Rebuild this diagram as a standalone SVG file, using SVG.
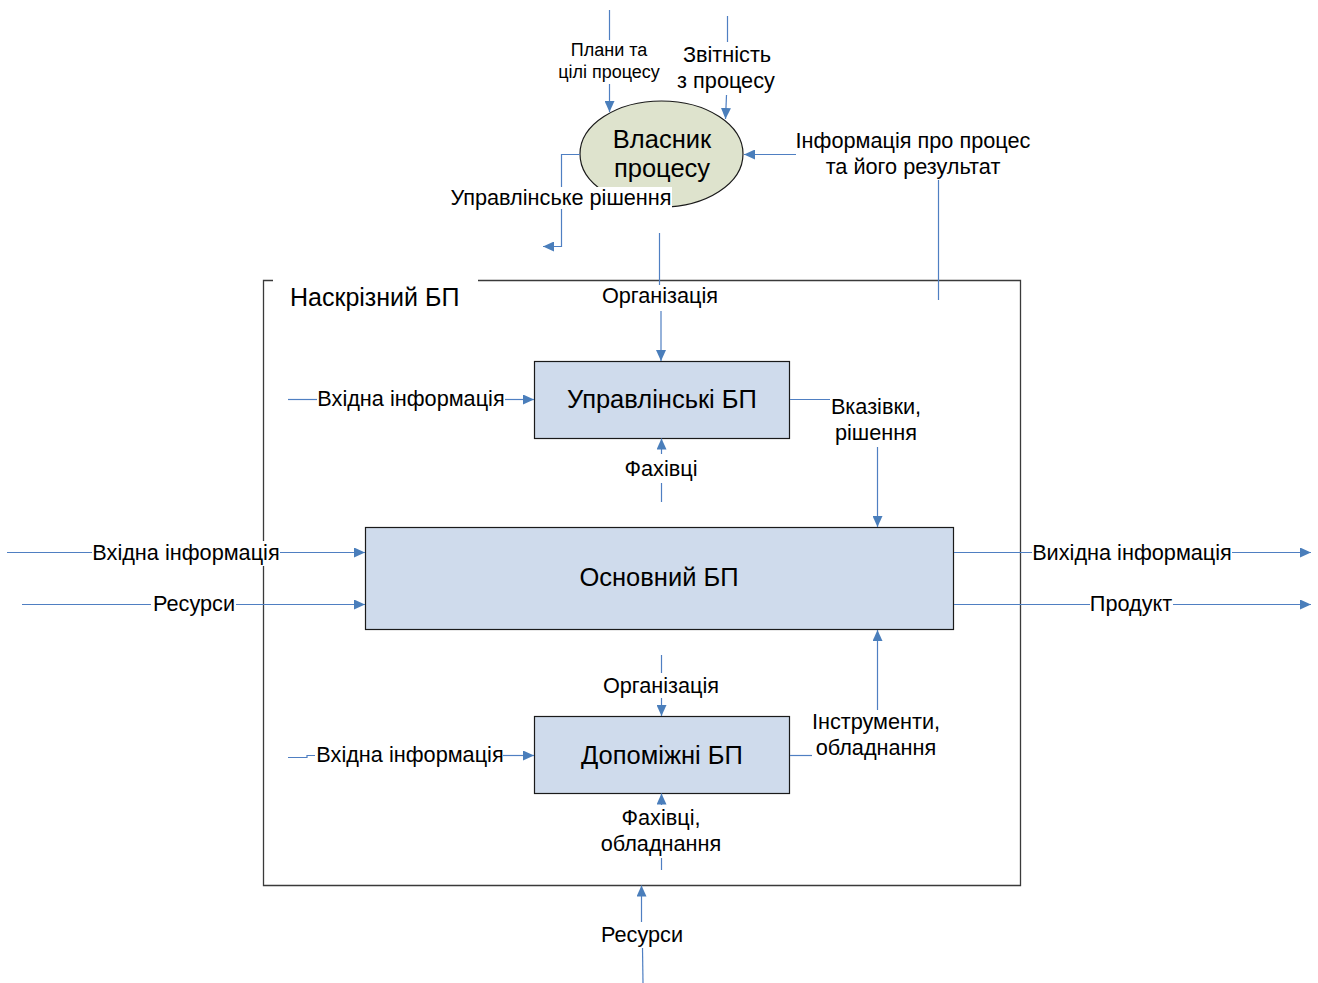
<svg xmlns="http://www.w3.org/2000/svg" width="1318" height="983" viewBox="0 0 1318 983">
  <style>
    text { font-family: "Liberation Sans", Arial, sans-serif; fill: #000; }
    .lbl { font-size: 21.7px; text-anchor: middle; }
    .sm { font-size: 18px; text-anchor: middle; }
    .box { fill: #cfdbec; stroke: #1a1a1a; stroke-width: 1.2; }
    .big { font-size: 25.5px; text-anchor: middle; }
    .ln { fill: none; stroke: #4f7fc2; stroke-width: 1.2; }
    .arr { marker-end: url(#ah); }
    .frame { fill: none; stroke: #3a3a3a; stroke-width: 1.3; }
  </style>
  <defs>
    <marker id="ah" markerUnits="userSpaceOnUse" markerWidth="12" markerHeight="10" refX="11" refY="5" orient="auto">
      <path d="M0,0 L11,5 L0,10 Z" fill="#4a7ebb"/>
    </marker>
  </defs>
  <rect width="1318" height="983" fill="#fff"/>

  <!-- outer frame of the end-to-end process -->
  <g id="frame">
    <path class="frame" d="M273,280.5 H263.5 V541 M263.5,566 V885.5 H1020.5 V280.5 H478"/>
    <text x="290" y="306" style="font-size:25px">Наскрізний БП</text>
  </g>

  <!-- process owner -->
  <g id="owner">
    <ellipse cx="661.5" cy="154" rx="81.5" ry="53" fill="#dee3cd" stroke="#1a1a1a" stroke-width="1.2"/>
    <text class="big" x="662" y="148">Власник</text>
    <text class="big" x="662" y="177">процесу</text>
  </g>

  <g id="mgmt">
    <rect class="box" x="534.5" y="361.5" width="255" height="77"/>
    <text class="big" x="662" y="408">Управлінські БП</text>
  </g>

  <g id="core">
    <rect class="box" x="365.5" y="527.5" width="588" height="102"/>
    <text class="big" x="659" y="586">Основний БП</text>
  </g>

  <g id="support">
    <rect class="box" x="534.5" y="716.5" width="255" height="77"/>
    <text class="big" x="662" y="764">Допоміжні БП</text>
  </g>

  <!-- connectors -->
  <g id="connectors">
    <!-- plans and goals -->
    <path class="ln" d="M609.5,10 V40"/>
    <path class="ln arr" d="M609.5,84 V112"/>
    <!-- reporting -->
    <path class="ln" d="M727.5,16 V42"/>
    <path class="ln arr" d="M726.5,95 L725.5,119"/>
    <!-- information about the process -->
    <path class="ln" d="M938.5,180 V300"/>
    <path class="ln arr" d="M796,154.5 H744"/>
    <!-- management decision -->
    <path class="ln" d="M580,154.5 H561.5 V188"/>
    <path class="ln arr" d="M561.5,209 V246.5 H543"/>
    <!-- organisation (top) -->
    <path class="ln" d="M659.5,233 V285"/>
    <path class="ln arr" d="M661,311 V361"/>
    <!-- input to management -->
    <path class="ln" d="M288,399.5 H317"/>
    <path class="ln arr" d="M505,399.5 H534"/>
    <!-- specialists -->
    <path class="ln arr" d="M661.5,454 V438.5"/>
    <path class="ln" d="M661.5,483 V502"/>
    <!-- instructions, decisions -->
    <path class="ln" d="M790,399.5 H830"/>
    <path class="ln arr" d="M877.5,447 V527"/>
    <!-- main inputs -->
    <path class="ln" d="M7,552.5 H92"/>
    <path class="ln arr" d="M280,552.5 H365"/>
    <path class="ln" d="M22,604.5 H151"/>
    <path class="ln arr" d="M236,604.5 H365"/>
    <!-- main outputs -->
    <path class="ln" d="M954,552.5 H1032"/>
    <path class="ln arr" d="M1232,552.5 H1311"/>
    <path class="ln" d="M954,604.5 H1090"/>
    <path class="ln arr" d="M1173,604.5 H1311"/>
    <!-- tools, equipment -->
    <path class="ln" d="M790,755.5 H812"/>
    <path class="ln arr" d="M877.5,710 V630"/>
    <!-- organisation (bottom) -->
    <path class="ln" d="M661.5,655 V673"/>
    <path class="ln arr" d="M661.5,698 V716"/>
    <!-- input to support -->
    <path class="ln" d="M288,757.5 H307 V755.5 H315"/>
    <path class="ln arr" d="M503,755.5 H534"/>
    <!-- specialists, equipment -->
    <path class="ln arr" d="M661.5,805 V793.5"/>
    <path class="ln" d="M661.5,858 V870"/>
    <!-- resources (bottom) -->
    <path class="ln arr" d="M641.5,922 V885.5"/>
    <path class="ln" d="M642.5,948 L643,983"/>
  </g>

  <!-- connector labels -->
  <g id="labels">
    <text class="sm" x="609" y="56">Плани та</text>
    <text class="sm" x="609" y="78">цілі процесу</text>
    <text class="lbl" x="727" y="62">Звітність</text>
    <text class="lbl" x="726" y="88">з процесу</text>
    <text class="lbl" x="913" y="148">Інформація про процес</text>
    <text class="lbl" x="913" y="174">та його результат</text>
    <rect x="450" y="187" width="222" height="22" fill="#fff"/>
    <text class="lbl" x="561" y="205">Управлінське рішення</text>
    <text class="lbl" x="660" y="303">Організація</text>
    <text class="lbl" x="411" y="406">Вхідна інформація</text>
    <text class="lbl" x="661" y="476">Фахівці</text>
    <text class="lbl" x="876" y="414">Вказівки,</text>
    <text class="lbl" x="876" y="440">рішення</text>
    <text class="lbl" x="186" y="560">Вхідна інформація</text>
    <text class="lbl" x="194" y="611">Ресурси</text>
    <text class="lbl" x="1132" y="560">Вихідна інформація</text>
    <text class="lbl" x="1131" y="611">Продукт</text>
    <text class="lbl" x="661" y="693">Організація</text>
    <text class="lbl" x="876" y="729">Інструменти,</text>
    <text class="lbl" x="876" y="755">обладнання</text>
    <text class="lbl" x="410" y="762">Вхідна інформація</text>
    <text class="lbl" x="661" y="825">Фахівці,</text>
    <text class="lbl" x="661" y="851">обладнання</text>
    <text class="lbl" x="642" y="942">Ресурси</text>
  </g>
</svg>
